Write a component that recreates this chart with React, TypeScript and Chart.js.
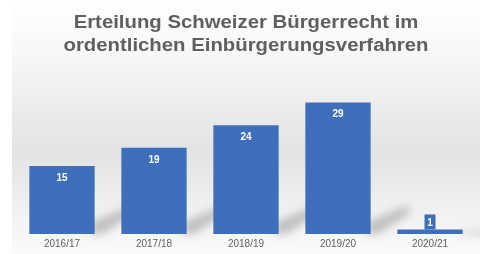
import React, { useEffect, useRef } from "react";
import { Chart, registerables } from "chart.js";

Chart.register(...registerables);

const categories = ["2016/17", "2017/18", "2018/19", "2019/20", "2020/21"];
const values = [15, 19, 24, 29, 1];
const titleLines = ["Erteilung Schweizer Bürgerrecht im", "ordentlichen Einbürgerungsverfahren"];

const BLUE = "#3f6fba";

const bgPlugin = {
  id: "bgGrad",
  beforeDraw(chart: any) {
    const { ctx, width, height } = chart;
    ctx.save();
    ctx.fillStyle = "#ffffff";
    ctx.fillRect(0, 0, width, height);
    const g = ctx.createLinearGradient(0, 0, 0, height);
    g.addColorStop(0, "#ffffff");
    g.addColorStop(0.2, "#f8f8f8");
    g.addColorStop(0.6, "#e3e3e3");
    g.addColorStop(0.85, "#f2f2f2");
    g.addColorStop(1, "#fbfbfb");
    ctx.fillStyle = g;
    ctx.fillRect(12, 0, width - 12, height);
    // title
    ctx.fillStyle = "#5f5f5f";
    ctx.font = "bold 18px 'Liberation Sans', Arial, sans-serif";
    ctx.textAlign = "center";
    ctx.textBaseline = "middle";
    titleLines.forEach((t, i) => {
      ctx.save();
      ctx.translate(246, 23 + i * 23);
      ctx.scale(1.13, 1);
      ctx.fillText(t, 0, 0);
      ctx.restore();
    });
    ctx.restore();
  },
};

const shadowPlugin = {
  id: "barShadow",
  beforeDatasetsDraw(chart: any) {
    const { ctx } = chart;
    const meta = chart.getDatasetMeta(0);
    ctx.save();
    ctx.filter = "blur(4px)";
    meta.data.forEach((bar: any) => {
      const right = bar.x + bar.width / 2;
      const bottom = bar.base;
      const h = Math.min(bottom - bar.y, 28);
      ctx.fillStyle = "rgba(110,110,110,0.4)";
      ctx.beginPath();
      ctx.moveTo(right - 4, bottom);
      ctx.lineTo(right - 4, bottom - h * 0.4);
      ctx.lineTo(right + 36, bottom - h);
      ctx.lineTo(right + 40, bottom - h + 6);
      ctx.lineTo(right + 8, bottom);
      ctx.closePath();
      ctx.fill();
    });
    ctx.restore();
  },
};

const labelPlugin = {
  id: "valLabels",
  afterDatasetsDraw(chart: any) {
    const { ctx } = chart;
    const meta = chart.getDatasetMeta(0);
    ctx.save();
    ctx.font = "bold 10px 'Liberation Sans', Arial, sans-serif";
    ctx.textAlign = "center";
    ctx.textBaseline = "middle";
    meta.data.forEach((bar: any, i: number) => {
      const v = values[i];
      const txt = String(v);
      if (bar.base - bar.y > 25) {
        ctx.fillStyle = "#ffffff";
        ctx.fillText(txt, bar.x, bar.y + 12);
      } else {
        const w = 11;
        const h = 15;
        const top = bar.y - h;
        ctx.fillStyle = BLUE;
        ctx.fillRect(bar.x - w / 2, top, w, h);
        ctx.fillStyle = "#ffffff";
        ctx.fillText(txt, bar.x, top + h / 2 + 1);
      }
    });
    ctx.restore();
  },
};

export default function App() {
  const ref = useRef<HTMLCanvasElement>(null);
  useEffect(() => {
    if (!ref.current) return;
    const chart = new Chart(ref.current, {
      type: "bar",
      data: {
        labels: categories,
        datasets: [
          {
            data: values,
            backgroundColor: BLUE,
            borderWidth: 0,
            categoryPercentage: 1,
            barPercentage: 0.71,
          },
        ],
      },
      options: {
        animation: false,
        responsive: false,
        layout: { padding: { top: 98, left: 16, right: 4, bottom: 0 } },
        plugins: { legend: { display: false }, title: { display: false }, tooltip: { enabled: false } },
        scales: {
          x: {
            grid: { display: false, drawTicks: false },
            border: { display: false },
            ticks: { color: "#5f5f5f", font: { size: 10, family: "'Liberation Sans', Arial, sans-serif" }, padding: 4 },
          },
          y: { display: false, min: 0, max: 30 },
        },
      },
      plugins: [bgPlugin, shadowPlugin, labelPlugin],
    });
    return () => chart.destroy();
  }, []);
  return (
    <div style={{ position: "fixed", left: 0, top: 0, width: 480, height: 254 }}>
      <canvas ref={ref} width={480} height={254} style={{ display: "block" }} />
    </div>
  );
}
